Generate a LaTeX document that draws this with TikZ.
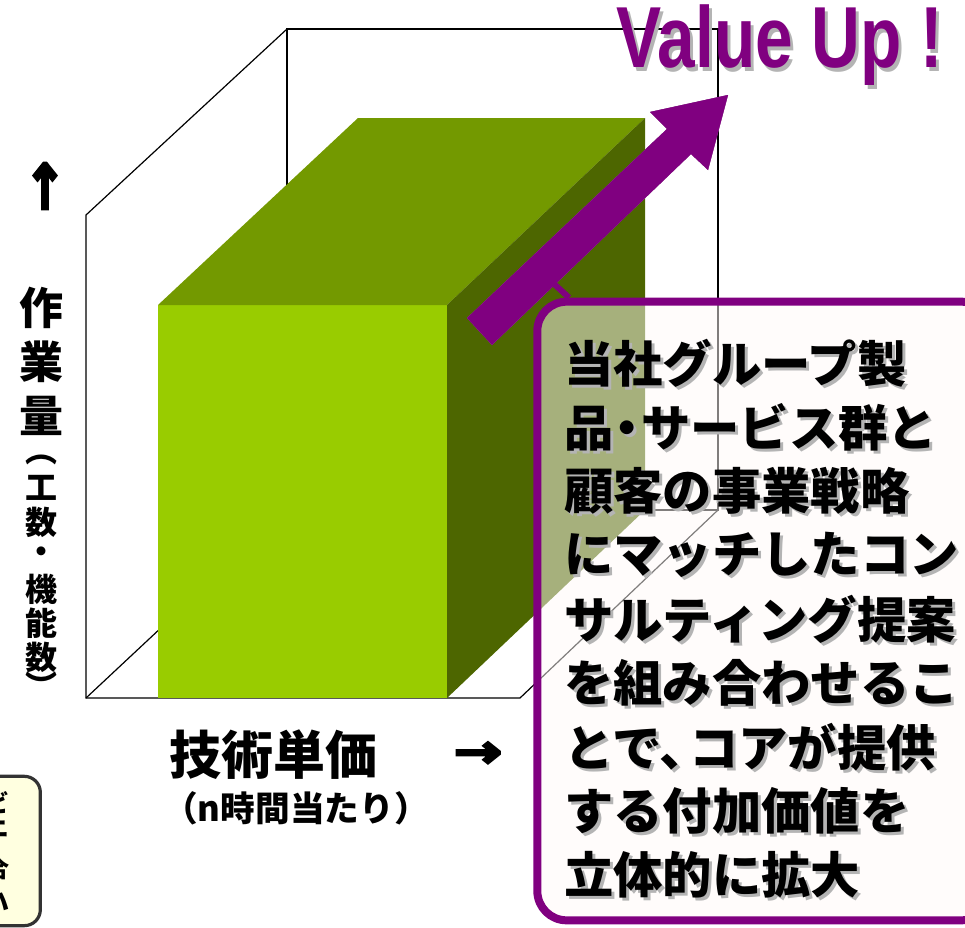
\documentclass[tikz,border=0pt]{standalone}
\usepackage{fontspec}
\newfontfamily\jp{Noto Sans CJK JP}
\newfontfamily\vf{Liberation Sans}
\newfontfamily\djsym[FakeBold=8]{DejaVu Sans}
\definecolor{gfront}{HTML}{99CC00}
\definecolor{gtop}{HTML}{739900}
\definecolor{gside}{HTML}{4D6600}
\definecolor{vpurple}{HTML}{800080}
\definecolor{vlight}{HTML}{B366B3}
\definecolor{vdark}{HTML}{4D004D}
\definecolor{cfill}{HTML}{FFFAF8}
\definecolor{yfill}{HTML}{FFFFE0}
\definecolor{tshadow}{HTML}{B4B4B4}
\definecolor{yborder}{HTML}{333333}
\newcommand{\nk}{\kern-0.22em}
\newcommand{\nkk}{\kern-0.4em}
\begin{document}
\begin{tikzpicture}[x=0.75pt,y=-0.75pt,
  wire/.style={draw=black,line width=0.9pt},
  calltxt/.style={anchor=west,inner sep=0pt,font=\jp\bfseries\fontsize{37}{37}\selectfont},
  axisbig/.style={inner sep=0pt,font=\jp\bfseries\fontsize{33}{33}\selectfont},
  axissmall/.style={inner sep=0pt,font=\jp\bfseries\fontsize{24}{24}\selectfont},
  ytxt/.style={inner sep=0pt,font=\jp\bfseries\fontsize{18}{18}\selectfont}]
\useasboundingbox (0,0) rectangle (965,928);
% bottom-left cut-off box
\node[draw=yborder,line width=2.4pt,fill=yfill,rounded corners=12pt,minimum width=68pt,minimum height=112pt,inner sep=0pt] (ybox) at (-5,851) {};
\foreach \c/\yy [count=\k] in {ビ/803,ニ/829,合/868,ハ/902}
  \node[ytxt] (yc\k) at (-2,\yy) {\c};
% wireframe
\coordinate (fbl) at (86,698);
\coordinate (ftl) at (86,215);
\coordinate (fbr) at (520,698);
\coordinate (btl) at (287,29);
\coordinate (btr) at (718,29);
\coordinate (bbr) at (718,510);
\coordinate (bbl) at (287,510);
\draw[wire] (btl) -- (btr) -- (bbr) -- (bbl) -- cycle;
\draw[wire] (btl) -- (ftl) -- (fbl) -- (fbr) -- (bbr);
\draw[wire] (fbl) -- (bbl);
% green box
\coordinate (g1) at (158,305);
\coordinate (g2) at (447,305);
\coordinate (g3) at (447,698);
\coordinate (g4) at (158,698);
\coordinate (g5) at (358,118);
\coordinate (g6) at (645,118);
\coordinate (g7) at (645,510);
\fill[gfront] (g1) -- (g2) -- (g3) -- (g4) -- cycle;
\fill[gtop] (g1) -- (g5) -- (g6) -- (g2) -- cycle;
\fill[gside] (g2) -- (g6) -- (g7) -- (g3) -- cycle;
% purple arrow
\coordinate (a1) at (467,318);
\coordinate (a2) at (667,129);
\coordinate (a3) at (650,112);
\coordinate (a4) at (728,95);
\coordinate (a5) at (708,170);
\coordinate (a6) at (691,154);
\coordinate (a7) at (492,345);
\fill[vdark,shift={(3,3)}] (a1) -- (a2) -- (a3) -- (a4) -- (a5) -- (a6) -- (a7) -- cycle;
\fill[vlight,shift={(-2,-2)}] (a1) -- (a2) -- (a3) -- (a4) -- (a5) -- (a6) -- (a7) -- cycle;
\fill[vpurple] (a1) -- (a2) -- (a3) -- (a4) -- (a5) -- (a6) -- (a7) -- cycle;
% callout
\coordinate (stub) at (553,283);
\node[draw=vpurple,line width=6pt,fill=cfill,fill opacity=0.5,rounded corners=22pt,minimum width=340pt,minimum height=464pt,inner sep=0pt] (callout) at (764,611) {};
\draw[vpurple,line width=4.5pt] (stub) -- (callout.north west -| 569,0);
\foreach \t [count=\i] in {当社グループ製,品{\nk}・{\nk}サービス群と,顧客の事業戦略,にマッチしたコン,サルティング提案,を組み合わせるこ,とで、{\nkk}コアが提供,する付加価値を,立体的に拡大}{
  \node[calltxt,text=tshadow] (cs\i) at ({567},{366+64*(\i-1)}) {\t};
  \node[calltxt] (ct\i) at ({564},{363+64*(\i-1)}) {\t};
}
% Value Up
\node[inner sep=0pt,text=tshadow,font=\vf\bfseries\fontsize{65}{65}\selectfont] (vus) at (783,49) {\scalebox{0.78}[1]{Value Up !}};
\node[inner sep=0pt,text=vpurple,font=\vf\bfseries\fontsize{65}{65}\selectfont] (vu) at (780,45) {\scalebox{0.78}[1]{Value Up !}};
% axis labels
\node[inner sep=0pt,font=\djsym\fontsize{45}{45}\selectfont] (up) at (45,186) {\scalebox{0.8}[1]{↑}};
\foreach \c/\yy [count=\k] in {作/308,業/362,量/416}
  \node[axisbig] (yb\k) at (42,\yy) {\c};
\foreach \c/\yy [count=\k] in {︵/460,工/488,数/522,・/555,機/589,能/623,数/657,︶/685}
  \node[axissmall] (ys\k) at (42,\yy) {\c};
\node[inner sep=0pt,font=\jp\bfseries\fontsize{39}{39}\selectfont] (xlab) at (273,755) {技術単価};
\node[inner sep=0pt,font=\djsym\fontsize{42}{42}\selectfont] (xarrow) at (478,755) {\scalebox{1}[0.8]{→}};
\node[inner sep=0pt,font=\jp\bfseries\fontsize{26}{26}\selectfont] (xsub) at (296,808) {（n時間当たり）};
\end{tikzpicture}
\end{document}
